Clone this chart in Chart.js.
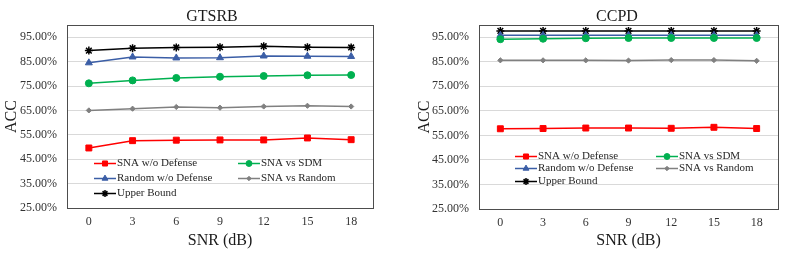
<!DOCTYPE html>
<html>
<head>
<meta charset="utf-8">
<script src="https://cdn.jsdelivr.net/npm/chart.js@4.4.1/dist/chart.umd.min.js"></script>
<style>
  html, body { margin: 0; padding: 0; background: #fff; }
  #wrap { position: relative; width: 789px; height: 262px; overflow: hidden; }
  canvas { position: absolute; top: 0; }
</style>
</head>
<body>
<div id="wrap">
  <canvas id="c1" width="394" height="262" style="left:0px"></canvas>
  <canvas id="c2" width="394" height="262" style="left:395px"></canvas>
</div>
<script>
// ---- Data ----
const snrLabels = ['0', '3', '6', '9', '12', '15', '18'];
const yTickValues = [25, 35, 45, 55, 65, 75, 85, 95];
const seriesNames = ['SNA w/o Defense', 'SNA vs SDM', 'Random w/o Defense', 'SNA vs Random', 'Upper Bound'];

const gtsrbSnaNoDef  = [49.6, 52.6, 52.8, 52.9, 52.9, 53.7, 53.0];
const gtsrbSnaSdm    = [76.1, 77.3, 78.3, 78.8, 79.1, 79.4, 79.5];
const gtsrbRandNoDef = [84.5, 86.9, 86.5, 86.6, 87.3, 87.2, 87.1];
const gtsrbSnaRand   = [65.0, 65.7, 66.4, 66.1, 66.6, 66.9, 66.6];
const gtsrbUpper     = [89.5, 90.5, 90.8, 90.9, 91.3, 90.9, 90.8];

const ccpdSnaNoDef  = [57.7, 57.8, 58.0, 58.0, 57.9, 58.3, 57.8];
const ccpdSnaSdm    = [94.2, 94.4, 94.6, 94.7, 94.7, 94.7, 94.7];
const ccpdRandNoDef = [95.8, 95.8, 95.8, 95.8, 95.8, 95.8, 95.8];
const ccpdSnaRand   = [85.6, 85.6, 85.6, 85.5, 85.7, 85.7, 85.4];
const ccpdUpper     = [97.6, 97.6, 97.6, 97.6, 97.6, 97.6, 97.6];

// ---- Styles ----
const SERIF = '"Liberation Serif", "Times New Roman", serif';
const seriesStyles = [
  { color: '#ff0000', pointStyle: 'rect',     radius: 4.2 },
  { color: '#00b050', pointStyle: 'circle',   radius: 3.5 },
  { color: '#3b5ea6', pointStyle: 'triangle', radius: 4 },
  { color: '#808080', pointStyle: 'rectRot',  radius: 2.6 },
  { color: '#000000', pointStyle: 'star',     radius: 4 }
];

function makeDatasets(arrays) {
  return arrays.map((vals, i) => ({
    label: seriesNames[i],
    data: vals,
    borderColor: seriesStyles[i].color,
    backgroundColor: seriesStyles[i].color,
    pointBackgroundColor: seriesStyles[i].color,
    pointBorderColor: seriesStyles[i].color,
    pointStyle: seriesStyles[i].pointStyle,
    pointRadius: seriesStyles[i].radius,
    pointBorderWidth: i === 4 ? 1.5 : 1,
    borderWidth: 1.5,
    tension: 0
  }));
}

const boxPlugin = {
  id: 'plotBox',
  afterDatasetsDraw(chart) {
    const ca = chart.chartArea, ctx = chart.ctx;
    ctx.save();
    ctx.strokeStyle = '#4d4d4d';
    ctx.lineWidth = 1;
    ctx.strokeRect(Math.round(ca.left) + 0.5, Math.round(ca.top) + 0.5,
                   Math.round(ca.right - ca.left), Math.round(ca.bottom - ca.top));
    ctx.restore();
  }
};

const titlePlugin = {
  id: 'plotTitle',
  afterDraw(chart, args, opts) {
    const ctx = chart.ctx;
    ctx.save();
    ctx.font = '16px ' + SERIF;
    ctx.fillStyle = '#1a1a1a';
    ctx.textAlign = 'center';
    ctx.textBaseline = 'alphabetic';
    ctx.fillText(opts.text, opts.x, opts.y);
    ctx.restore();
  }
};

const legendPlugin = {
  id: 'inLegend',
  afterDraw(chart, args, opts) {
    const ctx = chart.ctx, ca = chart.chartArea;
    ctx.save();
    ctx.font = '11px ' + SERIF;
    ctx.textBaseline = 'middle';
    ctx.textAlign = 'left';
    chart.data.datasets.forEach((ds, i) => {
      const col = i % 2, row = Math.floor(i / 2);
      const x = ca.left + opts.x[col];
      const y = Math.round(ca.bottom - opts.rows[row]) + 0.5;
      ctx.strokeStyle = ds.borderColor;
      ctx.fillStyle = ds.borderColor;
      ctx.lineWidth = 1.5;
      ctx.beginPath(); ctx.moveTo(x, y); ctx.lineTo(x + opts.lineLen, y); ctx.stroke();
      ctx.lineWidth = ds.pointBorderWidth;
      Chart.helpers.drawPoint(ctx, { pointStyle: ds.pointStyle, radius: ds.pointRadius * 0.85, borderWidth: ds.pointBorderWidth, rotation: 0 }, x + opts.lineLen / 2, y);
      ctx.fillStyle = '#262626';
      ctx.fillText(ds.label, x + opts.lineLen + 1, y);
    });
    ctx.restore();
  }
};

function makeChart(id, title, arrays, cfg) {
  return new Chart(document.getElementById(id), {
    type: 'line',
    data: { labels: snrLabels, datasets: makeDatasets(arrays) },
    plugins: [boxPlugin, legendPlugin, titlePlugin],
    options: {
      responsive: false,
      animation: false,
      devicePixelRatio: 1,
      layout: { padding: { left: cfg.padLeft, right: cfg.padRight, top: 25, bottom: 0 } },
      plugins: {
        legend: { display: false },
        tooltip: { enabled: false },
        title: { display: false },
        plotTitle: { text: title, x: cfg.titleX, y: cfg.titleY },
        inLegend: cfg.legend
      },
      scales: {
        x: {
          type: 'category',
          offset: true,
          grid: { display: false, drawTicks: false },
          border: { display: false },
          ticks: { color: '#333', font: { family: SERIF, size: 12 }, padding: 7, maxRotation: 0 },
          title: { display: true, text: 'SNR (dB)', color: '#1a1a1a',
                   font: { family: SERIF, size: 16 }, padding: { top: 0, bottom: 11.4 } },
          afterFit(scale) { scale.height = cfg.xHeight; }
        },
        y: {
          min: 25, max: 100,
          grid: { color: '#d9d9d9', lineWidth: 1, drawTicks: false },
          border: { display: false },
          afterBuildTicks(scale) { scale.ticks = yTickValues.map(v => ({ value: v })); },
          ticks: { color: '#333', font: { family: SERIF, size: 12 }, padding: 10,
                   callback: v => Number(v).toFixed(2) + '%' },
          title: { display: true, text: 'ACC', color: '#1a1a1a',
                   font: { family: SERIF, size: 16 }, padding: { top: 2.4, bottom: 0 } },
          afterFit(scale) { scale.width = cfg.yWidth; }
        }
      }
    }
  });
}

makeChart('c1', 'GTSRB',
  [gtsrbSnaNoDef, gtsrbSnaSdm, gtsrbRandNoDef, gtsrbSnaRand, gtsrbUpper],
  { padLeft: 0, padRight: 21, yWidth: 67, xHeight: 54, titleX: 212, titleY: 20.5,
    legend: { x: [27, 171], rows: [45, 30, 15], lineLen: 22 } });

makeChart('c2', 'CCPD',
  [ccpdSnaNoDef, ccpdSnaSdm, ccpdRandNoDef, ccpdSnaRand, ccpdUpper],
  { padLeft: 18, padRight: 11, yWidth: 66, xHeight: 53, titleX: 222, titleY: 21,
    legend: { x: [36, 177], rows: [53.3, 40.7, 28], lineLen: 22 } });
</script>
</body>
</html>
